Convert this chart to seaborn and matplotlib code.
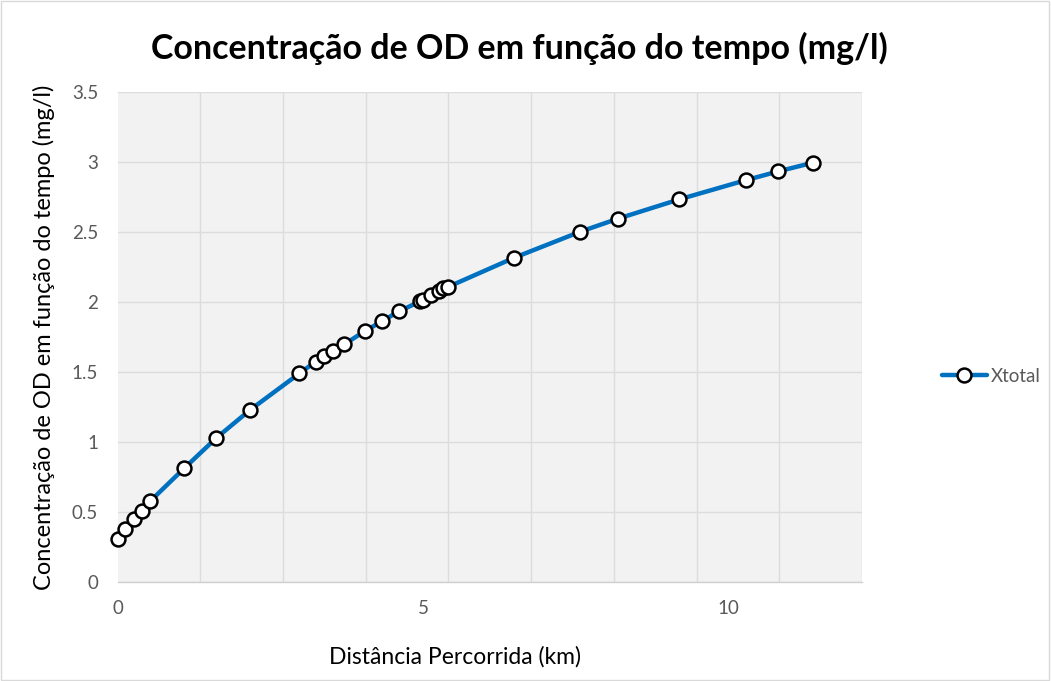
import matplotlib
matplotlib.use("Agg")
import matplotlib.pyplot as plt
import seaborn as sns
import numpy as np
import pandas as pd
from matplotlib.patches import Rectangle

# Data
distancia_km = [0.0, 0.128, 0.275, 0.406, 0.532, 1.088, 1.617, 2.169, 2.976, 3.243,
                3.385, 3.527, 3.707, 4.051, 4.334, 4.602, 4.951, 5.005, 5.131, 5.267,
                5.333, 5.414, 6.489, 7.57, 8.186, 9.19, 10.286, 10.81, 11.378]
od_mg_l = [0.309, 0.379, 0.447, 0.509, 0.576, 0.811, 1.029, 1.229, 1.49, 1.574,
           1.611, 1.652, 1.697, 1.793, 1.864, 1.933, 2.004, 2.016, 2.052, 2.079,
           2.1, 2.109, 2.316, 2.502, 2.595, 2.733, 2.871, 2.933, 2.995]
series_name = "Xtotal"
x_tick_values = [0, 5, 10]
y_tick_values = [0, 0.5, 1, 1.5, 2, 2.5, 3, 3.5]
y_tick_labels = ["0", "0.5", "1", "1.5", "2", "2.5", "3", "3.5"]
title_text = "Concentração de OD em função do tempo (mg/l)"
x_label = "Distância Percorrida (km)"
y_label = "Concentração de OD em função do tempo (mg/l)"

df = pd.DataFrame({"x": distancia_km, "y": od_mg_l, "serie": series_name})

sns.set_style("white")
plt.rcParams["font.family"] = ["Lato", "DejaVu Sans"]

W, H = 1051, 681
fig = plt.figure(figsize=(W / 100, H / 100), dpi=100)
left, right, top, bottom = 117.5, 862, 92, 582
ax = fig.add_axes([left / W, 1 - bottom / H, (right - left) / W, (bottom - top) / H])

ax.set_facecolor("#f2f2f2")
sns.lineplot(data=df, x="x", y="y", hue="serie", palette=["#0070c0"], sort=False,
             marker="o", markersize=10, markerfacecolor="white",
             markeredgecolor="black", markeredgewidth=1.8, linewidth=3.2,
             ax=ax, legend=True, clip_on=False, zorder=3)

xmax = 12.18
ax.set_xlim(0, xmax)
ax.set_ylim(0, 3.5)
ax.set_xticks(x_tick_values)
ax.set_xticklabels([str(v) for v in x_tick_values])
ax.set_xticks(np.linspace(0, xmax, 10), minor=True)
ax.set_yticks(y_tick_values)
ax.set_yticklabels(y_tick_labels)
ax.grid(False)
ax.xaxis.grid(True, which="minor", color="#dcdcdc", linewidth=1)
ax.yaxis.grid(True, which="major", color="#dcdcdc", linewidth=1)
ax.set_axisbelow(True)
ax.tick_params(axis="both", which="both", length=0, labelsize=13.5, colors="#595959")
ax.tick_params(axis="x", pad=13)
ax.tick_params(axis="y", pad=14)
for s in ["top", "right", "left"]:
    ax.spines[s].set_visible(False)
ax.spines["bottom"].set_color("#d0d0d0")
ax.spines["bottom"].set_linewidth(1)

ax.set_xlabel(x_label, fontsize=16.5, color="#000000")
ax.xaxis.set_label_coords(0.453, -(657 - 582) / (582 - 92), transform=ax.transAxes)
ax.xaxis.label.set_va("center")
ax.set_ylabel(y_label, fontsize=17, color="#000000", labelpad=12)

fig.text(519 / W, 1 - 48 / H, title_text, ha="center", va="center",
         fontsize=24.5, fontweight="bold", color="#000000")

leg = ax.legend(loc="center left", bbox_to_anchor=(925 / W, 1 - 376 / H),
                bbox_transform=fig.transFigure, frameon=False, fontsize=13.5,
                handlelength=2.4, handletextpad=0.2)
for t in leg.get_texts():
    t.set_color("#595959")

fig.patches.append(Rectangle((0.001, 0.001), 0.997, 0.997, transform=fig.transFigure,
                             fill=False, edgecolor="#d9d9d9", linewidth=1))

fig.savefig("out.png", dpi=100)
